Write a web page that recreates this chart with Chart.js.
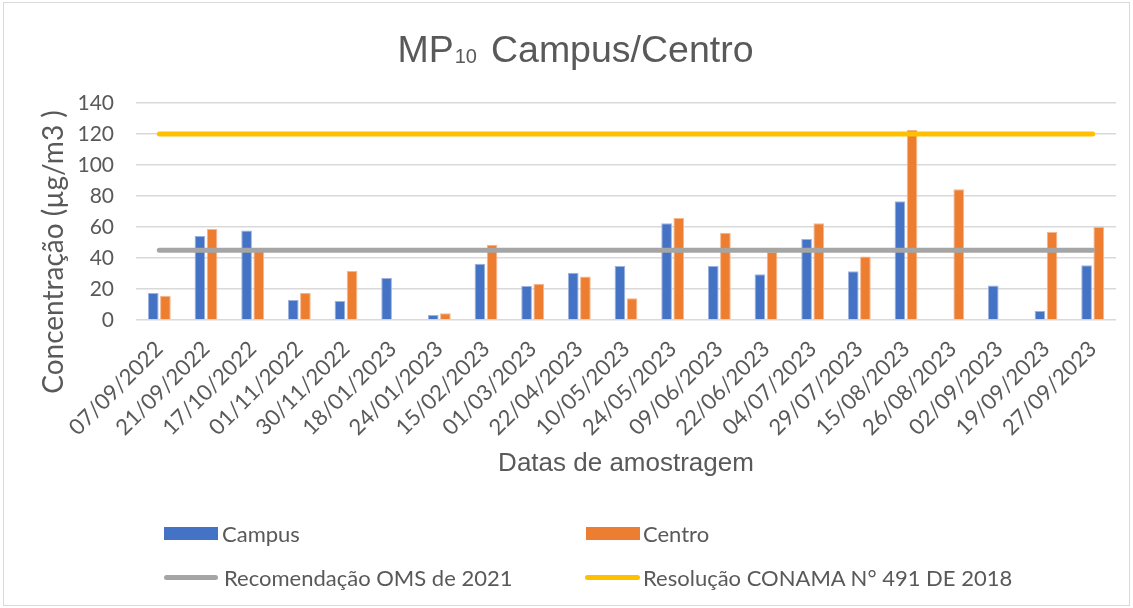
<!DOCTYPE html>
<html lang="pt-BR">
<head>
<meta charset="utf-8">
<title>MP10 Campus/Centro</title>
<script src="https://cdn.jsdelivr.net/npm/chart.js@4.4.1/dist/chart.umd.min.js"></script>
<style>
  html, body { margin: 0; padding: 0; background: #fff; }
  #wrap { position: relative; width: 1133px; height: 608px; overflow: hidden; }
  #frame { position: absolute; left: 3px; top: 2px; right: 3px; bottom: 2px; border: 1px solid #d9d9d9; pointer-events: none; }
  canvas { position: absolute; left: 0; top: 0; }
  .leg { position: absolute; font-family: Lato, sans-serif; font-size: 22px; color: #595959; line-height: 26px; white-space: nowrap; }
  .sw { position: absolute; }
</style>
</head>
<body>
<div id="wrap">
  <canvas id="chart" width="1133" height="608"></canvas>
  <div id="frame"></div>

  <div class="sw" style="left:164px; top:527px; width:54px; height:13px; background:#4472C4;"></div>
  <div class="leg" style="left:222px; top:521px;">Campus</div>
  <div class="sw" style="left:586px; top:527px; width:54px; height:13px; background:#ED7D31;"></div>
  <div class="leg" style="left:643px; top:521px;">Centro</div>

  <div class="sw" style="left:164px; top:575px; width:54px; height:5px; border-radius:3px; background:#A5A5A5;"></div>
  <div class="leg" style="left:224px; top:565px;">Recomendação OMS de 2021</div>
  <div class="sw" style="left:585px; top:575px; width:55px; height:5px; border-radius:3px; background:#FFC000;"></div>
  <div class="leg" style="left:643px; top:565px;">Resolução CONAMA N° 491 DE 2018</div>
</div>

<script>
// datas das coletas
const datas = [
  '07/09/2022', '21/09/2022', '17/10/2022', '01/11/2022', '30/11/2022', '18/01/2023',
  '24/01/2023', '15/02/2023', '01/03/2023', '22/04/2023', '10/05/2023', '24/05/2023',
  '09/06/2023', '22/06/2023', '04/07/2023', '29/07/2023', '15/08/2023', '26/08/2023',
  '02/09/2023', '19/09/2023', '27/09/2023'
];

// MP10 em µg/m3 (null = sem coleta)
const campus = [17.4, 54.2, 57.8, 12.9, 12.2, 27.1, 3.2, 36.3, 21.9, 30.5, 34.8, 62.4,
                34.8, 29.5, 52.3, 31.4, 76.6, null, 22.2, 5.8, 35.3];
const centro = [15.7, 58.7, 44.5, 17.6, 31.6, null, 4.3, 48.6, 23.4, 28.0, 14.0, 65.8,
                56.3, 44.0, 62.4, 40.9, 122.6, 84.3, null, 56.8, 60.0];

// limites de referência
const oms2021 = [45, 45, 45, 45, 45, 45, 45, 45, 45, 45, 45, 45, 45, 45, 45, 45, 45, 45, 45, 45, 45];
const conama491 = [120, 120, 120, 120, 120, 120, 120, 120, 120, 120, 120, 120, 120, 120, 120, 120, 120, 120, 120, 120, 120];

const yTicks = [0, 20, 40, 60, 80, 100, 120, 140];

const textColor = '#595959';

// título com subscrito e título do eixo Y
const titlesPlugin = {
  id: 'titles',
  afterDraw(chart) {
    const ctx = chart.ctx;
    ctx.save();
    ctx.fillStyle = textColor;
    ctx.textBaseline = 'alphabetic';
    ctx.textAlign = 'left';

    const big = '37.5px "Liberation Sans", Arial, sans-serif';
    const small = '20px "Liberation Sans", Arial, sans-serif';
    ctx.font = big;
    const wMP = ctx.measureText('MP').width;
    const wRest = ctx.measureText('Campus/Centro').width;
    ctx.font = small;
    const wSub = ctx.measureText('10').width;
    const gap = 14;
    const total = wMP + wSub + gap + wRest;
    let x = 575 - total / 2;
    const base = 62;
    ctx.font = big;
    ctx.fillText('MP', x, base);
    x += wMP + 1;
    ctx.font = small;
    ctx.fillText('10', x, base + 1);
    x += wSub + gap;
    ctx.font = big;
    ctx.fillText('Campus/Centro', x, base);

    ctx.translate(54, 252);
    ctx.rotate(-Math.PI / 2);
    ctx.textAlign = 'center';
    ctx.textBaseline = 'middle';
    ctx.font = '28px Lato, sans-serif';
    ctx.fillText('Concentração (µg/m3 )', 0, 0);
    ctx.restore();
  }
};

new Chart(document.getElementById('chart'), {
  type: 'bar',
  data: {
    labels: datas,
    datasets: [
      {
        type: 'line',
        label: 'Recomendação OMS de 2021',
        data: oms2021,
        borderColor: '#A5A5A5',
        borderWidth: 5,
        borderCapStyle: 'round',
        pointRadius: 0,
        order: 0
      },
      {
        type: 'line',
        label: 'Resolução CONAMA N° 491 DE 2018',
        data: conama491,
        borderColor: '#FFC000',
        borderWidth: 5,
        borderCapStyle: 'round',
        pointRadius: 0,
        order: 0
      },
      {
        label: 'Campus',
        data: campus,
        backgroundColor: '#4472C4',
        borderColor: '#9DB3DF',
        borderWidth: 1,
        categoryPercentage: 0.52,
        barPercentage: 0.88,
        order: 1
      },
      {
        label: 'Centro',
        data: centro,
        backgroundColor: '#ED7D31',
        borderColor: '#F5B88E',
        borderWidth: 1,
        categoryPercentage: 0.52,
        barPercentage: 0.88,
        order: 1
      }
    ]
  },
  options: {
    responsive: false,
    animation: false,
    layout: {
      padding: { top: 103, left: 0, right: 17, bottom: 125 }
    },
    plugins: {
      legend: { display: false },
      title: { display: false },
      tooltip: { enabled: false }
    },
    scales: {
      x: {
        grid: { display: false },
        border: { display: false },
        ticks: {
          color: textColor,
          font: { family: 'Lato', size: 22 },
          minRotation: 45,
          maxRotation: 45,
          autoSkip: false,
          padding: 8
        },
        title: {
          display: true,
          text: 'Datas de amostragem',
          color: textColor,
          font: { family: 'Liberation Sans', size: 26 },
          padding: { top: 4, bottom: 4 }
        },
        afterFit(scale) { scale.height = 163; }
      },
      y: {
        min: 0,
        max: 140,
        afterBuildTicks(scale) { scale.ticks = yTicks.map(v => ({ value: v })); },
        grid: { color: '#D9D9D9', lineWidth: 1.5, drawTicks: false },
        border: { display: false },
        ticks: {
          color: textColor,
          font: { family: 'Lato', size: 21 },
          padding: 22
        },
        afterFit(scale) { scale.width = 136; }
      }
    }
  },
  plugins: [titlesPlugin]
});
</script>
</body>
</html>
